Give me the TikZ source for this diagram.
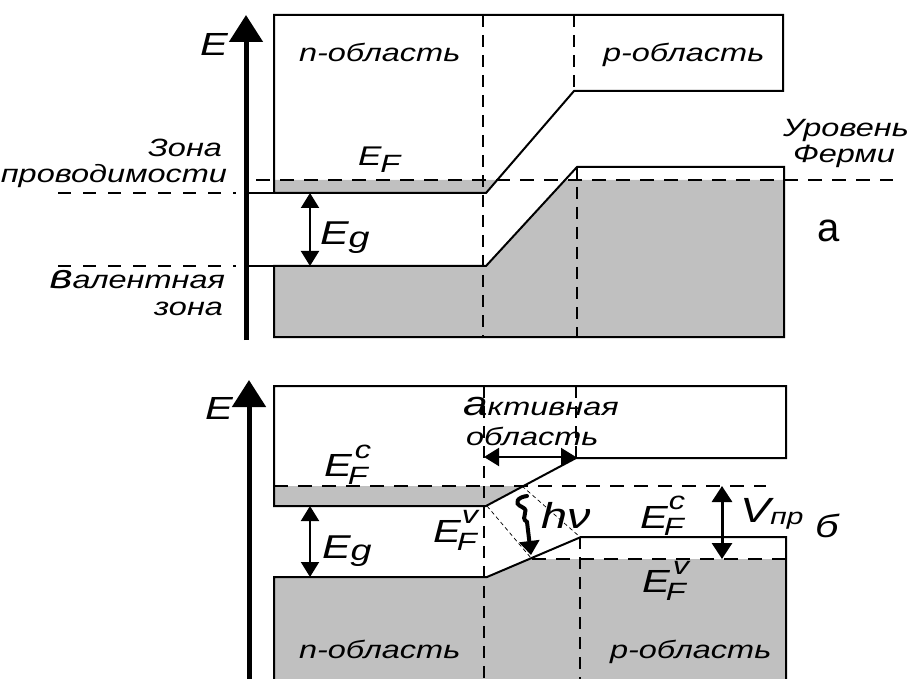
\documentclass[tikz,border=0pt]{standalone}
\usepackage{fontspec}
\setmainfont{Liberation Sans}[FakeStretch=1.3]
\newfontfamily\plainfont{Liberation Sans}
\usetikzlibrary{arrows.meta}
\newcommand\fsz[1]{\fontsize{#1}{#1}\selectfont}
% E with sub F and superscript: #1 sup text, #2 kern before sup, #3 raise sup, #4 kern before F, #5 lower F
\newcommand\EFsup[5]{E\rlap{\kern#2\raisebox{#3}{\fsz{25}#1}}\kern#4\raisebox{-#5}{\fsz{25}F}}
\definecolor{band}{RGB}{192,192,192}
\begin{document}
\begin{tikzpicture}[x=1pt,y=-1pt,
  every node/.style={inner sep=0pt, outer sep=0pt},
  bandline/.style={line width=2pt, line join=miter},
  fermi/.style={line width=2.6pt, dash pattern=on 14pt off 10pt},
  vdash/.style={line width=2.4pt, dash pattern=on 12pt off 8pt},
  lvl/.style={line width=2pt, dash pattern=on 13pt off 12pt},
  axis/.style={line width=5pt, -{Triangle[length=27pt,width=33pt]}},
  gaparrow/.style={line width=2pt, {Triangle[length=15pt,width=18pt]}-{Triangle[length=15pt,width=18pt]}},
  bigarrow/.style={line width=3pt, {Triangle[length=16pt,width=20pt]}-{Triangle[length=16pt,width=20pt]}},
  thindash/.style={line width=0.7pt, dash pattern=on 4pt off 3pt},
  txt/.style={anchor=base west, font=\itshape\fsz{25}},
  txtr/.style={anchor=base east, font=\itshape\fsz{25}},
  sym/.style={anchor=base west, font=\itshape\fsz{32}}
]
\useasboundingbox (0,0) rectangle (908,679);

%% ================= (a) =================
% fills
\fill[band] (274,180) -- (497,180) -- (486,193) -- (274,193) -- cycle;
\fill[band] (274,266) -- (486,266) -- (565,180) -- (784,180) -- (784,337) -- (274,337) -- cycle;
% bands
\draw[bandline] (274,193) -- (274,15) -- (783,15) -- (783,91) -- (574,91) -- (486,193) -- cycle;
\draw[bandline] (274,266) -- (486,266) -- (577,167) -- (784,167) -- (784,337) -- (274,337) -- cycle;
% Fermi level
\coordinate (fa1) at (256,180); \coordinate (fa2) at (893,180);
\draw[fermi] (fa1) -- (fa2);
% vertical dashed
\draw[vdash] (483,15) -- (483,337);
\draw[vdash] (574,15) -- (574,91);
\draw[vdash] (577,167) -- (577,337);
% left level lines
\draw[lvl] (58,193) -- (236,193);
\draw[lvl] (58,266) -- (236,266);
\draw[line width=2pt] (246,193) -- (274,193);
\draw[line width=2pt] (246,266) -- (274,266);
% axis
\coordinate (axa0) at (246,340); \coordinate (axa1) at (246,15);
\draw[axis] (axa0) -- (axa1);
% Eg arrow
\coordinate (ega1) at (310,193); \coordinate (ega2) at (310,266);
\draw[gaparrow] (ega1) -- (ega2);
% labels
\node[sym] (Ea) at (200,56) {E};
\node[txt] (na) at (299,62) {n-область};
\node[txt] (pa) at (603,62) {p-область};
\node[anchor=base west, font=\itshape\fsz{27}] (EFa) at (358,166) {E\kern-1pt\raisebox{-7pt}{\fsz{25}F}};
\node[anchor=base west, font=\itshape\fsz{33}] (Ega) at (320,245) {E\raisebox{-2pt}{\fsz{29}g}};
\node[txtr] (zona1) at (222,157) {Зона};
\node[txtr] (prov) at (227,183) {проводимости};
\node[txtr] (val) at (225,288) {{\fsz{34}в}алентная};
\node[txtr] (zona2) at (223,315) {зона};
\node[txt] (ur) at (783,137) {Уровень};
\node[txt] (fe) at (793,163) {Ферми};
\node[anchor=base west, font=\plainfont\fsz{40}] (la) at (817,242) {а};

%% ================= (б) =================
% fills
\fill[band] (274,486) -- (522,486) -- (486,506) -- (274,506) -- cycle;
\fill[band] (274,577) -- (487,577) -- (529,559) -- (786,559) -- (786,679) -- (274,679) -- cycle;
% bands
\draw[bandline] (274,506) -- (274,386) -- (786,386) -- (786,458) -- (576,458) -- (486,506) -- cycle;
\draw[bandline] (274,679) -- (274,577) -- (487,577) -- (581,537) -- (786,537) -- (786,679);
% quasi-Fermi levels
\coordinate (fc1) at (274,486); \coordinate (fc2) at (766,486);
\draw[fermi] (fc1) -- (fc2);
\coordinate (fv1) at (532,559); \coordinate (fv2) at (786,559);
\draw[fermi] (fv1) -- (fv2);
% vertical dashed
\draw[vdash] (484,386) -- (484,679);
\draw[vdash] (576,386) -- (576,458);
\draw[vdash] (580,537) -- (580,679);
% thin dashed guides
\draw[thindash] (487,506) -- (531,558);
\draw[thindash] (522,486) -- (580,537);
% axis
\coordinate (axb0) at (249,679); \coordinate (axb1) at (249,380);
\draw[axis] (axb0) -- (axb1);
% Eg arrow
\coordinate (egb1) at (310,506); \coordinate (egb2) at (310,577);
\draw[gaparrow] (egb1) -- (egb2);
% active region arrow
\coordinate (ac1) at (484,457); \coordinate (ac2) at (576,457);
\draw[gaparrow] (ac1) -- (ac2);
% V arrow
\coordinate (v1) at (722,486); \coordinate (v2) at (722,559);
\draw[bigarrow] (v1) -- (v2);
% photon
\coordinate (ph0) at (527,496); \coordinate (ph1) at (531,555);
\draw[line width=4pt, line cap=round, -{Triangle[length=14pt,width=20pt]}]
  (ph0) .. controls (518,497) and (513,503) .. (522,507)
  .. controls (531,511) and (519,517) .. (527,522) -- (ph1);
% labels
\node[sym] (Eb) at (205,419) {E};
\node[anchor=base west, font=\itshape\fsz{32}] (EFc1) at (324,476) {\EFsup{c}{3pt}{18pt}{-4pt}{8pt}};
\node[anchor=base west, font=\itshape\fsz{32}] (EFv1) at (433,542) {\EFsup{v}{1pt}{19pt}{-4pt}{8pt}};
\node[anchor=base west, font=\itshape\fsz{32}] (EFc2) at (640,528) {\EFsup{c}{1pt}{19pt}{-4pt}{7pt}};
\node[anchor=base west, font=\itshape\fsz{32}] (EFv2) at (642,592) {\EFsup{v}{3pt}{18pt}{-4pt}{8pt}};
\node[anchor=base west, font=\itshape\fsz{33}] (Egb) at (322,558) {E\raisebox{-2pt}{\fsz{29}g}};
\node[anchor=base west, font=\itshape\fsz{36}] (hv) at (541,528) {hν};
\node[anchor=base west, font=\itshape\fsz{35}] (Vpr) at (740,522) {V\raisebox{-2pt}{\fsz{23}пр}};
\node[anchor=base west, font=\itshape\fsz{32}] (lb) at (815,537) {б};
\node[txt] (akt) at (463,415) {{\fsz{34}а}ктивная};
\node[txt] (obl) at (466,445) {область};
\node[txt] (nb) at (299,658) {n-область};
\node[txt] (pb) at (610,658) {p-область};
\end{tikzpicture}
\end{document}
